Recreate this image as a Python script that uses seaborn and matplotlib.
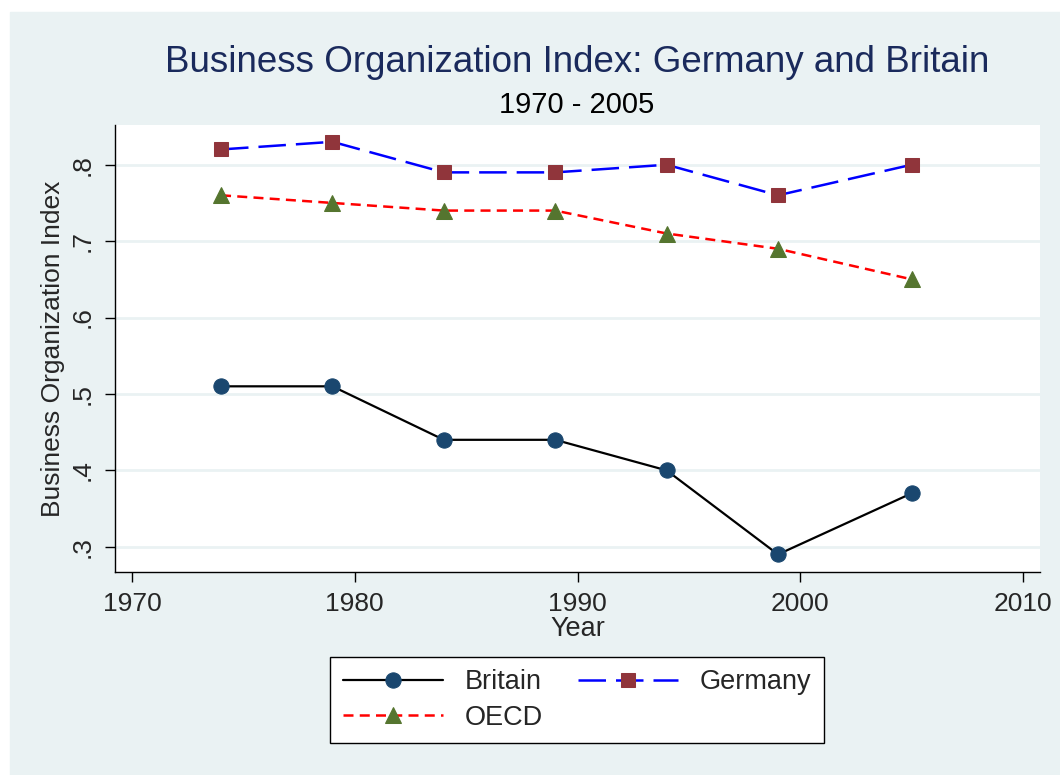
import matplotlib
matplotlib.use("Agg")
import matplotlib.pyplot as plt
import seaborn as sns
import pandas as pd

# data
years = [1974, 1979, 1984, 1989, 1994, 1999, 2005]
britain = [0.51, 0.51, 0.44, 0.44, 0.40, 0.29, 0.37]
germany = [0.82, 0.83, 0.79, 0.79, 0.80, 0.76, 0.80]
oecd = [0.76, 0.75, 0.74, 0.74, 0.71, 0.69, 0.65]

x_ticks = [1970, 1980, 1990, 2000, 2010]
y_ticks = [0.3, 0.4, 0.5, 0.6, 0.7, 0.8]
y_labels = [".3", ".4", ".5", ".6", ".7", ".8"]

df = pd.DataFrame({"Year": years, "Britain": britain,
                   "Germany": germany, "OECD": oecd})

bg = "#EAF2F3"
sns.set_style("white")
plt.rcParams["font.family"] = ["Liberation Sans", "DejaVu Sans"]

fig = plt.figure(figsize=(10.6, 7.75), dpi=100)
# outer stata-like background panel with a thin white margin
fig.patches.append(plt.Rectangle((10 / 1060, 0), 1 - 10 / 1060, 1 - 12 / 775,
                                 transform=fig.transFigure, color=bg, zorder=-10))
ax = fig.add_axes([115 / 1060, 1 - 572 / 775, 925 / 1060, 447 / 775])
ax.set_facecolor("white")

sns.lineplot(data=df, x="Year", y="Britain", ax=ax, color="black", lw=1.6,
             marker="o", markersize=11, markerfacecolor="#1a476f",
             markeredgecolor="#1a476f", label="Britain")
sns.lineplot(data=df, x="Year", y="Germany", ax=ax, color="#0000ff", lw=1.8,
             dashes=(11, 4), marker="s", markersize=10,
             markerfacecolor="#90353b", markeredgecolor="#90353b", label="Germany")
sns.lineplot(data=df, x="Year", y="OECD", ax=ax, color="#ff0000", lw=1.8,
             dashes=(4, 2.5), marker="^", markersize=12,
             markerfacecolor="#55752f", markeredgecolor="#55752f", label="OECD")

ax.set_xlim(1969.24, 2010.76)
ax.set_ylim(0.267, 0.852)
ax.set_xticks(x_ticks)
ax.set_yticks(y_ticks)
ax.set_yticklabels(y_labels, rotation=90, va="center")
ax.tick_params(axis="both", labelsize=19, length=7.5, width=1, color="black",
               direction="out", bottom=True, left=True, pad=7)
ax.grid(axis="y", color=bg, lw=2)
ax.set_axisbelow(True)
sns.despine(ax=ax)
for s in ["left", "bottom"]:
    ax.spines[s].set_color("black")
    ax.spines[s].set_linewidth(1)

ax.set_xlabel("Year", fontsize=19.5, labelpad=0)
ax.set_ylabel("Business Organization Index", fontsize=19, labelpad=4)

fig.text(577 / 1060, 1 - 62 / 775, "Business Organization Index: Germany and Britain",
         ha="center", va="center", fontsize=26.5, color="#1a2a5c")
fig.text(577 / 1060, 1 - 105 / 775, "1970 - 2005", ha="center", va="center",
         fontsize=21, color="black")

h, l = ax.get_legend_handles_labels()
ax.get_legend().remove()
order = [0, 2, 1]
leg = fig.legend([h[i] for i in order], [l[i] for i in order], ncol=2,
                 loc="center", bbox_to_anchor=(577 / 1060, 1 - 700 / 775),
                 fontsize=19.5, frameon=True, fancybox=False, handlelength=3.7,
                 columnspacing=1.3, borderpad=0.45, labelspacing=0.35, handletextpad=0.8,
                 borderaxespad=0, framealpha=1, facecolor="white")
leg.get_frame().set_edgecolor("black")
leg.get_frame().set_linewidth(1)

fig.savefig("out.png", dpi=100, facecolor="white")
